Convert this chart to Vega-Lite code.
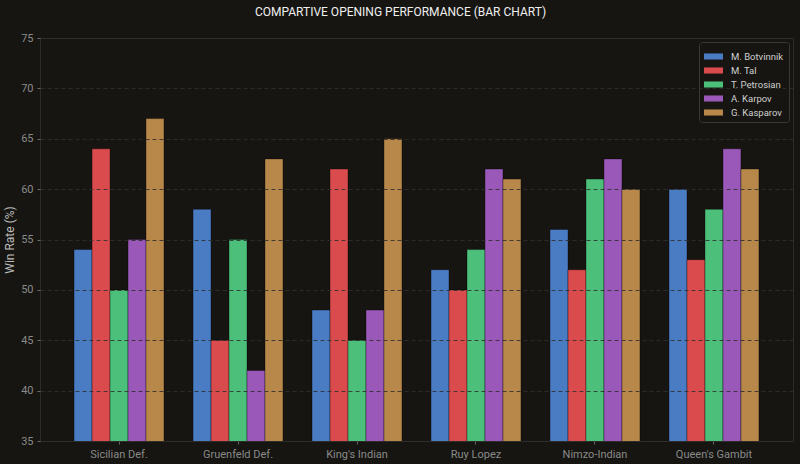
{
  "$schema": "https://vega.github.io/schema/vega-lite/v6.json",
  "width": 753,
  "height": 403,
  "autosize": {"type": "none"},
  "padding": {"left": 40, "top": 38, "right": 7, "bottom": 23},
  "background": "#161511",
  "title": {
    "text": "COMPARTIVE OPENING PERFORMANCE (BAR CHART)",
    "color": "#f0f0f0",
    "font": "Roboto",
    "fontSize": 12,
    "fontWeight": "normal",
    "anchor": "middle",
    "dx": -16,
    "offset": 13
  },
  "config": {
    "font": "Roboto",
    "view": {"stroke": "#2c2b27", "strokeWidth": 1},
    "axis": {
      "labelColor": "#8a8a8a",
      "labelFont": "Roboto",
      "labelFontSize": 11,
      "titleColor": "#bdbdbd",
      "titleFont": "Roboto",
      "titleFontSize": 12,
      "titleFontWeight": "normal",
      "domainColor": "#2c2b27",
      "tickColor": "#6a6a6a",
      "tickSize": 3
    }
  },
  "data": {
    "values": [
      {"opening": "Sicilian Def.", "player": "M. Botvinnik", "win": 54},
      {"opening": "Sicilian Def.", "player": "M. Tal", "win": 64},
      {"opening": "Sicilian Def.", "player": "T. Petrosian", "win": 50},
      {"opening": "Sicilian Def.", "player": "A. Karpov", "win": 55},
      {"opening": "Sicilian Def.", "player": "G. Kasparov", "win": 67},
      {"opening": "Gruenfeld Def.", "player": "M. Botvinnik", "win": 58},
      {"opening": "Gruenfeld Def.", "player": "M. Tal", "win": 45},
      {"opening": "Gruenfeld Def.", "player": "T. Petrosian", "win": 55},
      {"opening": "Gruenfeld Def.", "player": "A. Karpov", "win": 42},
      {"opening": "Gruenfeld Def.", "player": "G. Kasparov", "win": 63},
      {"opening": "King's Indian", "player": "M. Botvinnik", "win": 48},
      {"opening": "King's Indian", "player": "M. Tal", "win": 62},
      {"opening": "King's Indian", "player": "T. Petrosian", "win": 45},
      {"opening": "King's Indian", "player": "A. Karpov", "win": 48},
      {"opening": "King's Indian", "player": "G. Kasparov", "win": 65},
      {"opening": "Ruy Lopez", "player": "M. Botvinnik", "win": 52},
      {"opening": "Ruy Lopez", "player": "M. Tal", "win": 50},
      {"opening": "Ruy Lopez", "player": "T. Petrosian", "win": 54},
      {"opening": "Ruy Lopez", "player": "A. Karpov", "win": 62},
      {"opening": "Ruy Lopez", "player": "G. Kasparov", "win": 61},
      {"opening": "Nimzo-Indian", "player": "M. Botvinnik", "win": 56},
      {"opening": "Nimzo-Indian", "player": "M. Tal", "win": 52},
      {"opening": "Nimzo-Indian", "player": "T. Petrosian", "win": 61},
      {"opening": "Nimzo-Indian", "player": "A. Karpov", "win": 63},
      {"opening": "Nimzo-Indian", "player": "G. Kasparov", "win": 60},
      {"opening": "Queen's Gambit", "player": "M. Botvinnik", "win": 60},
      {"opening": "Queen's Gambit", "player": "M. Tal", "win": 53},
      {"opening": "Queen's Gambit", "player": "T. Petrosian", "win": 58},
      {"opening": "Queen's Gambit", "player": "A. Karpov", "win": 64},
      {"opening": "Queen's Gambit", "player": "G. Kasparov", "win": 62}
    ]
  },
  "mark": {"type": "bar", "clip": true, "stroke": "#000000", "strokeOpacity": 0.35, "strokeWidth": 1},
  "encoding": {
    "x": {
      "field": "opening",
      "type": "nominal",
      "sort": null,
      "scale": {"paddingInner": 0.244, "paddingOuter": 0.286},
      "axis": {"title": null, "labelAngle": 0, "labelPadding": 4, "domain": false}
    },
    "xOffset": {
      "field": "player",
      "type": "nominal",
      "sort": ["M. Botvinnik", "M. Tal", "T. Petrosian", "A. Karpov", "G. Kasparov"],
      "scale": {"paddingInner": 0, "paddingOuter": 0}
    },
    "y": {
      "field": "win",
      "type": "quantitative",
      "scale": {"domain": [35, 75], "nice": false, "zero": false},
      "axis": {
        "title": "Win Rate (%)",
        "values": [35, 40, 45, 50, 55, 60, 65, 70, 75],
        "grid": true,
        "gridColor": "#2f2f2f",
        "gridOpacity": 0.85,
        "gridDash": [4, 3],
        "gridWidth": 1,
        "zindex": 1,
        "domain": false,
        "labelPadding": 4,
        "titlePadding": 4
      }
    },
    "color": {
      "field": "player",
      "type": "nominal",
      "sort": ["M. Botvinnik", "M. Tal", "T. Petrosian", "A. Karpov", "G. Kasparov"],
      "scale": {
        "domain": ["M. Botvinnik", "M. Tal", "T. Petrosian", "A. Karpov", "G. Kasparov"],
        "range": ["#4a7cc4", "#d94b4d", "#4cbf7b", "#9a58b8", "#b8884a"]
      },
      "legend": {
        "title": null,
        "orient": "top-right",
        "offset": 4,
        "symbolType": "M-1,-0.32H1V0.32H-1Z",
        "symbolSize": 361,
        "symbolStrokeWidth": 0,
        "labelColor": "#d0d0d0",
        "labelFontSize": 9.5,
        "labelOffset": 8,
        "rowPadding": -7,
        "strokeColor": "#3a3935",
        "fillColor": "#161511",
        "padding": 5,
        "cornerRadius": 3
      }
    }
  }
}
